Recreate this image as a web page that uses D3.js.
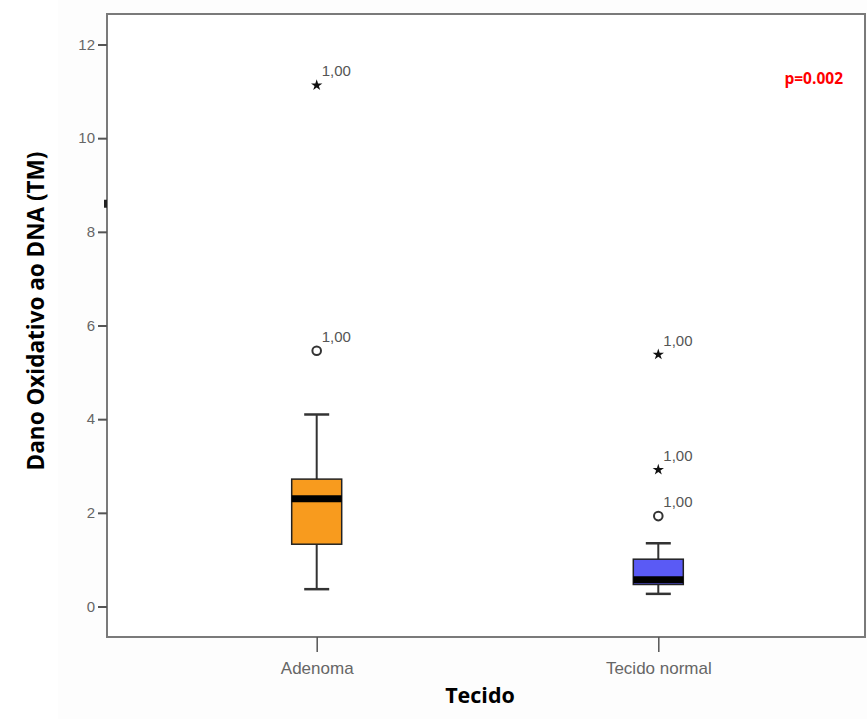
<!DOCTYPE html>
<html>
<head>
<meta charset="utf-8">
<script src="https://cdn.jsdelivr.net/npm/d3@7"></script>
<style>
  html, body { margin: 0; padding: 0; background: #ffffff; }
  svg { display: block; }
</style>
</head>
<body>
<svg id="chart" width="867" height="719"></svg>
<script>
// ---- data ----
const categories = ["Adenoma", "Tecido normal"];
const whiskerLow  = [0.37, 0.27];
const q1          = [1.33, 0.47];
const medians     = [2.30, 0.57];
const q3          = [2.72, 1.01];
const whiskerHigh = [4.10, 1.35];
const boxColors   = ["#f89b1e", "#5a5af5"];
// outliers: [categoryIndex, value, type, label]
const outlierCat   = [0, 0, 1, 1, 1];
const outlierVal   = [11.13, 5.46, 5.38, 2.92, 1.93];
const outlierType  = ["star", "circle", "star", "star", "circle"];
const outlierLabel = ["1,00", "1,00", "1,00", "1,00", "1,00"];
const yTicks = [0, 2, 4, 6, 8, 10, 12];
const yTitle = "Dano Oxidativo ao DNA (TM)";
const xTitle = "Tecido";
const pText = "p=0.002";

// ---- layout ----
const svg = d3.select("#chart");
const frame = { left: 107, right: 865, top: 14, bottom: 637 };

svg.append("rect").attr("x", 58).attr("y", 0).attr("width", 809).attr("height", 719).attr("fill", "#fdfdfd");

const y = d3.scaleLinear().domain([0, 12]).range([606.5, 44.5]);
const x = d3.scalePoint().domain(categories).range([316.7, 658.3]);

// frame
svg.append("rect")
  .attr("x", frame.left).attr("y", frame.top)
  .attr("width", frame.right - frame.left).attr("height", frame.bottom - frame.top)
  .attr("fill", "#ffffff").attr("stroke", "#7a7a7a").attr("stroke-width", 2);

// y axis
const yAxis = d3.axisLeft(y).tickValues(yTicks).tickSize(9).tickPadding(3).tickFormat(d3.format("d"));
const gy = svg.append("g").attr("transform", `translate(${frame.left},0)`).call(yAxis);
gy.select(".domain").remove();
gy.selectAll(".tick line").attr("stroke", "#555").attr("stroke-width", 2);
gy.selectAll(".tick text").attr("fill", "#666").attr("font-family", "Liberation Sans, Arial, sans-serif").attr("font-size", 15);

// x axis
const xAxis = d3.axisBottom(x).tickSize(15).tickPadding(10);
const gx = svg.append("g").attr("transform", `translate(0,${frame.bottom})`).call(xAxis);
gx.select(".domain").remove();
gx.selectAll(".tick line").attr("stroke", "#555").attr("stroke-width", 1.5);
gx.selectAll(".tick text").attr("fill", "#666").attr("font-family", "Liberation Sans, Arial, sans-serif").attr("font-size", 17);

// small marker artifact on y axis
svg.append("path")
  .attr("d", `M${frame.left - 3},${y(8.6) - 4} L${frame.left},${y(8.6) - 4} L${frame.left},${y(8.6) + 4} L${frame.left - 3},${y(8.6) + 4} Z`)
  .attr("fill", "#222");

// boxes
const boxW = 50, capW = 25;
categories.forEach((c, i) => {
  const cx = x(c);
  const g = svg.append("g");
  g.append("line").attr("x1", cx).attr("x2", cx).attr("y1", y(whiskerHigh[i])).attr("y2", y(q3[i])).attr("stroke", "#333").attr("stroke-width", 2);
  g.append("line").attr("x1", cx).attr("x2", cx).attr("y1", y(q1[i])).attr("y2", y(whiskerLow[i])).attr("stroke", "#333").attr("stroke-width", 2);
  g.append("line").attr("x1", cx - capW / 2).attr("x2", cx + capW / 2).attr("y1", y(whiskerHigh[i])).attr("y2", y(whiskerHigh[i])).attr("stroke", "#333").attr("stroke-width", 2.5);
  g.append("line").attr("x1", cx - capW / 2).attr("x2", cx + capW / 2).attr("y1", y(whiskerLow[i])).attr("y2", y(whiskerLow[i])).attr("stroke", "#333").attr("stroke-width", 2.5);
  g.append("rect").attr("x", cx - boxW / 2).attr("y", y(q3[i])).attr("width", boxW).attr("height", y(q1[i]) - y(q3[i]))
    .attr("fill", boxColors[i]).attr("stroke", "#222").attr("stroke-width", 1.5);
  g.append("line").attr("x1", cx - boxW / 2).attr("x2", cx + boxW / 2).attr("y1", y(medians[i])).attr("y2", y(medians[i])).attr("stroke", "#000").attr("stroke-width", 7);
});

// outliers
const star = d3.symbol().type(d3.symbolStar).size(40);
outlierVal.forEach((v, k) => {
  const cx = x(categories[outlierCat[k]]);
  const cy = y(v);
  if (outlierType[k] === "star") {
    svg.append("path").attr("d", star()).attr("transform", `translate(${cx},${cy})`).attr("fill", "#111");
  } else {
    svg.append("circle").attr("cx", cx).attr("cy", cy).attr("r", 4.3).attr("fill", "none").attr("stroke", "#333").attr("stroke-width", 2);
  }
  svg.append("text").attr("x", cx + 5).attr("y", cy - 9).text(outlierLabel[k])
    .attr("fill", "#555").attr("font-family", "Liberation Sans, Arial, sans-serif").attr("font-size", 15);
});

// p value
svg.append("text").attr("x", 843).attr("y", 84).attr("text-anchor", "end").text(pText)
  .attr("fill", "#ff0000").attr("font-family", "Open Sans, Arial, sans-serif").attr("font-weight", "bold").attr("font-size", 15.5);

// axis titles
svg.append("text").attr("x", 480).attr("y", 703).attr("text-anchor", "middle").text(xTitle)
  .attr("fill", "#000").attr("font-family", "Open Sans, Arial, sans-serif").attr("font-weight", "bold").attr("font-size", 21.5);
svg.append("text").attr("transform", `translate(44,311) rotate(-90)`).attr("text-anchor", "middle").text(yTitle)
  .attr("fill", "#000").attr("font-family", "Open Sans, Arial, sans-serif").attr("font-weight", "bold").attr("font-size", 22.5);
</script>
</body>
</html>
